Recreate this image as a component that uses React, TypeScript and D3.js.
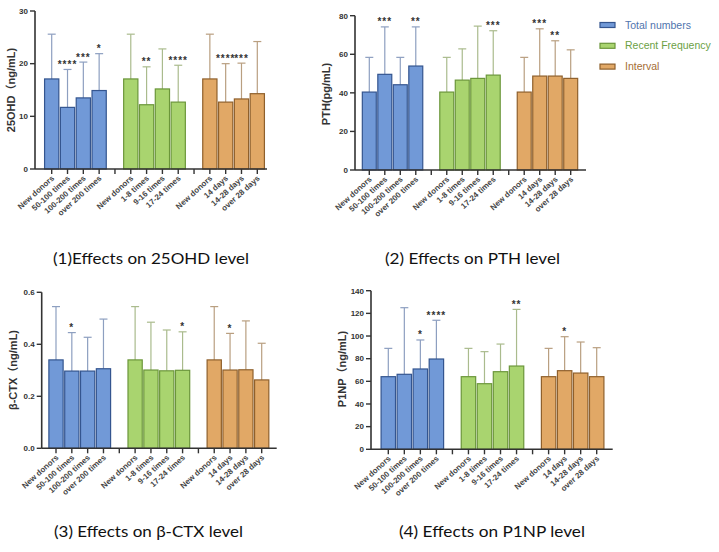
import React from "react";
import * as d3 from "d3";

// ---------- DATA ----------
const groups = ["Total numbers", "Recent Frequency", "Interval"];
const categories = [
  ["New donors", "50-100 times", "100-200 times", "over 200 times"],
  ["New donors", "1-8 times", "9-16 times", "17-24 times"],
  ["New donors", "14 days", "14-28 days", "over 28 days"],
];

const ohdMeans = [17.1, 11.7, 13.5, 14.9, 17.1, 12.2, 15.2, 12.7, 17.1, 12.7, 13.3, 14.3];
const ohdUpper = [25.6, 18.9, 20.3, 21.9, 25.6, 19.4, 22.8, 19.7, 25.6, 20.0, 20.1, 24.2];
const ohdStars = ["", "****", "***", "*", "", "**", "", "****", "", "****", "***", ""];

const pthMeans = [40.4, 49.6, 44.2, 53.9, 40.4, 46.6, 47.5, 49.2, 40.4, 48.7, 48.7, 47.5];
const pthUpper = [58.4, 74.2, 58.4, 74.2, 58.4, 62.8, 74.6, 72.2, 58.4, 73.2, 67.0, 62.3];
const pthStars = ["", "***", "", "**", "", "", "", "***", "", "***", "**", ""];

const ctxMeans = [0.34, 0.297, 0.297, 0.306, 0.34, 0.301, 0.298, 0.3, 0.34, 0.301, 0.302, 0.263];
const ctxUpper = [0.545, 0.445, 0.427, 0.497, 0.545, 0.485, 0.455, 0.448, 0.545, 0.442, 0.49, 0.404];
const ctxStars = ["", "*", "", "", "", "", "", "*", "", "*", "", ""];

const p1npMeans = [64.1, 66.2, 70.9, 79.7, 64.1, 57.9, 68.5, 73.5, 64.1, 69.4, 67.3, 64.1];
const p1npUpper = [89.1, 125, 96.5, 113.9, 89.1, 86.2, 92.9, 123.5, 89.1, 99.4, 94.7, 89.7];
const p1npStars = ["", "", "*", "****", "", "", "", "**", "", "*", "", ""];

const yTitles = ["25OHD（ng/mL)", "PTH(pg/mL)", "β-CTX（ng/mL)", "P1NP（ng/mL)"];
const captions = [
  "(1)Effects on 25OHD level",
  "(2) Effects on PTH level",
  "(3) Effects on β-CTX level",
  "(4) Effects on P1NP level",
];

// ---------- STYLE ----------
const fills = ["#7199d7", "#a9d46f", "#e1a866"];
const strokes = ["#34558f", "#6b963a", "#8f602c"];
const errColors = ["#8d9fc0", "#aabb8d", "#b99f80"];
const legendText = ["#4f74ad", "#6b9f45", "#a56e34"];
const axisColor = "#333";
const labelFont = "'Liberation Sans', Arial, sans-serif";

type Cfg = {
  axisX: number; y0: number; yTop: number; yMax: number; step: number;
  firstX: number; lastX: number; axisEnd: number; fmt: string;
  titleX: number; titleY: number;
  capX: number; capY: number; capW: number;
};

const cfgs: Cfg[] = [
  { axisX: 35, y0: 169, yTop: 11, yMax: 30, step: 10, firstX: 51.7, lastX: 257.3, axisEnd: 267, fmt: "d", titleX: 11, titleY: 90, capX: 53, capY: 264, capW: 196 },
  { axisX: 355, y0: 170, yTop: 15.7, yMax: 80, step: 20, firstX: 369.3, lastX: 570.7, axisEnd: 586, fmt: "d", titleX: 326, titleY: 94, capX: 385, capY: 264, capW: 175 },
  { axisX: 41.7, y0: 448.3, yTop: 292.3, yMax: 0.6, step: 0.2, firstX: 56, lastX: 261.7, axisEnd: 276.7, fmt: ".1f", titleX: 13, titleY: 370, capX: 54, capY: 537, capW: 189 },
  { axisX: 371, y0: 449.3, yTop: 290.7, yMax: 140, step: 20, firstX: 388.3, lastX: 596.7, axisEnd: 612.7, fmt: "d", titleX: 342, titleY: 369, capX: 399, capY: 537, capW: 186 },
];

const panelData = [
  { means: ohdMeans, upper: ohdUpper, stars: ohdStars },
  { means: pthMeans, upper: pthUpper, stars: pthStars },
  { means: ctxMeans, upper: ctxUpper, stars: ctxStars },
  { means: p1npMeans, upper: p1npUpper, stars: p1npStars },
];

// slot keys: 4 categories, separator, 4 categories, separator, 4 categories
const slotKeys: string[] = [];
const barSlots: { key: string; g: number; label: string }[] = [];
groups.forEach((g, gi) => {
  if (gi > 0) slotKeys.push("sep" + gi);
  categories[gi].forEach((c, ci) => {
    const k = `${gi}-${ci}`;
    slotKeys.push(k);
    barSlots.push({ key: k, g: gi, label: c });
  });
});

function Panel({ cfg, data, title, caption }: { cfg: Cfg; data: { means: number[]; upper: number[]; stars: string[] }; title: string; caption: string }) {
  const y = d3.scaleLinear().domain([0, cfg.yMax]).range([cfg.y0, cfg.yTop]);
  const x = d3.scalePoint<string>().domain(slotKeys).range([cfg.firstX, cfg.lastX]);
  const bw = x.step() * 0.9;
  const ticks = d3.range(0, cfg.yMax + cfg.step / 2, cfg.step);
  const fmt = d3.format(cfg.fmt);
  return (
    <g>
      {/* bars */}
      {barSlots.map((s, i) => {
        const cx = x(s.key)!;
        const top = y(data.means[i]);
        const et = y(data.upper[i]);
        return (
          <g key={s.key}>
            <line x1={cx} x2={cx} y1={top} y2={et} stroke={errColors[s.g]} strokeWidth={1.2} />
            <line x1={cx - 4} x2={cx + 4} y1={et} y2={et} stroke={errColors[s.g]} strokeWidth={1.2} />
            <rect x={cx - bw / 2} y={top} width={bw} height={cfg.y0 - top} fill={fills[s.g]} stroke={strokes[s.g]} strokeWidth={1.2} />
            {data.stars[i] && (
              <text x={cx} y={et - 1.5} textAnchor="middle" fontFamily={labelFont} fontSize={10} fontWeight="bold" fill="#333" letterSpacing={1}>
                {data.stars[i]}
              </text>
            )}
          </g>
        );
      })}
      {/* y axis */}
      <line x1={cfg.axisX} x2={cfg.axisX} y1={y(cfg.yMax)} y2={cfg.y0} stroke={axisColor} strokeWidth={1.6} />
      {ticks.map((t) => (
        <g key={t}>
          <line x1={cfg.axisX - 5} x2={cfg.axisX} y1={y(t)} y2={y(t)} stroke={axisColor} strokeWidth={1.4} />
          <text x={cfg.axisX - 7} y={y(t)} dy="0.35em" textAnchor="end" fontFamily={labelFont} fontSize={8} fontWeight="bold" fill="#333">
            {fmt(t)}
          </text>
        </g>
      ))}
      {/* x axis */}
      <line x1={cfg.axisX} x2={cfg.axisEnd} y1={cfg.y0} y2={cfg.y0} stroke={axisColor} strokeWidth={1.6} />
      {slotKeys.map((k) => (
        <line key={k} x1={x(k)!} x2={x(k)!} y1={cfg.y0} y2={cfg.y0 + 5} stroke={axisColor} strokeWidth={1.4} />
      ))}
      {barSlots.map((s) => {
        const cx = x(s.key)!;
        return (
          <text key={"l" + s.key} transform={`translate(${cx + 3},${cfg.y0 + 10}) rotate(-42)`} textAnchor="end" fontFamily={labelFont} fontSize={8} fontWeight="bold" fill="#444">
            {s.label}
          </text>
        );
      })}
      {/* y title */}
      <text transform={`translate(${cfg.titleX},${cfg.titleY}) rotate(-90)`} textAnchor="middle" dy="0.35em" fontFamily={`${labelFont}, 'Noto Sans CJK SC'`} fontSize={11} fontWeight="bold" fill="#333">
        {title}
      </text>
      {/* caption */}
      <text x={cfg.capX} y={cfg.capY} fontFamily="Lato, 'Open Sans', sans-serif" fontSize={16} fill="#111" textLength={cfg.capW} lengthAdjust="spacingAndGlyphs">
        {caption}
      </text>
    </g>
  );
}

export default function App() {
  return (
    <svg width={719} height={552} style={{ position: "absolute", left: 0, top: 0, background: "#fff" }}>
      <rect width={719} height={552} fill="#fff" />
      {cfgs.map((c, i) => (
        <Panel key={i} cfg={c} data={panelData[i]} title={yTitles[i]} caption={captions[i]} />
      ))}
      {/* legend */}
      {groups.map((g, i) => (
        <g key={g}>
          <rect x={600} y={22.5 + i * 20.8} width={15} height={5} fill={fills[i]} stroke={strokes[i]} strokeWidth={1.2} />
          <text x={625} y={25 + i * 20.8} dy="0.35em" fontFamily={labelFont} fontSize={10.5} fill={legendText[i]}>
            {g}
          </text>
        </g>
      ))}
    </svg>
  );
}
